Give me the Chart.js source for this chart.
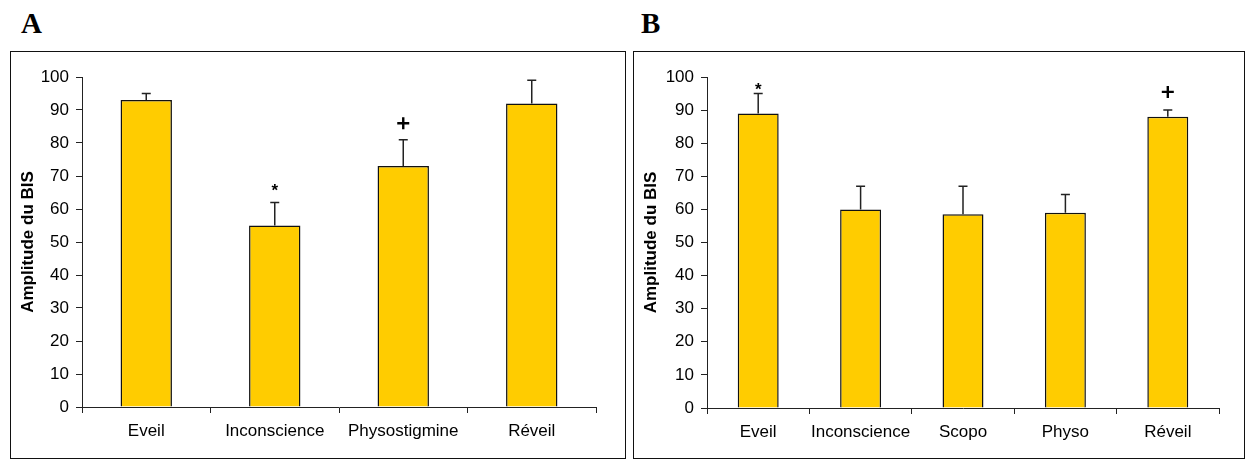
<!DOCTYPE html>
<html>
<head>
<meta charset="utf-8">
<script src="https://cdn.jsdelivr.net/npm/chart.js@4.4.1/dist/chart.umd.min.js"></script>
<style>
  body { margin: 0; background: #fff; width: 1247px; height: 459px; position: relative; overflow: hidden; }
  .letter { position: absolute; font: bold 29px 'Liberation Serif', 'Times New Roman', serif; }
  .box { position: absolute; border: 1.5px solid #111; box-sizing: border-box; }
  canvas { position: absolute; }
</style>
</head>
<body>
<div class="letter" style="left:21px; top:7px;">A</div>
<div class="letter" style="left:641px; top:7px;">B</div>
<div class="box" style="left:10px; top:51px; width:616px; height:408px;"></div>
<div class="box" style="left:633px; top:51px; width:612px; height:408px;"></div>
<canvas id="chartA" width="613" height="405" style="left:11px; top:52px;"></canvas>
<canvas id="chartB" width="609" height="405" style="left:634px; top:52px;"></canvas>
<script>
// Panel A
const labelsA = ['Eveil', 'Inconscience', 'Physostigmine', 'Réveil'];
const valuesA = [93, 55, 73, 92];
const errorsA = [2, 7, 8, 7];
const marksA = ['', '*', '+', ''];
const markValuesA = [null, 67, 86, null];

// Panel B
const labelsB = ['Eveil', 'Inconscience', 'Scopo', 'Physo', 'Réveil'];
const valuesB = [89, 60, 58.5, 59, 88];
const errorsB = [6, 7, 8.5, 5.5, 2];
const marksB = ['*', '', '', '', '+'];
const markValuesB = [97.5, null, null, null, 95.5];

const yTicks = [0, 10, 20, 30, 40, 50, 60, 70, 80, 90, 100];

const BAR_COLOR = '#FFCC00';
const AXIS_COLOR = '#222';

Chart.defaults.font.family = "'Liberation Sans', Arial, sans-serif";
Chart.defaults.color = '#000';

// draws the upper error bars and the significance marks
const errorBarPlugin = {
    id: 'errorBars',
    afterDatasetsDraw(chart, args, opts) {
        const ctx = chart.ctx;
        const y = chart.scales.y;
        const meta = chart.getDatasetMeta(0);
        ctx.save();
        meta.data.forEach((bar, i) => {
            const top = y.getPixelForValue(opts.values[i]);
            const cap = y.getPixelForValue(opts.values[i] + opts.errors[i]);
            ctx.strokeStyle = '#222';
            ctx.lineWidth = 1.5;
            ctx.beginPath();
            ctx.moveTo(bar.x, top);
            ctx.lineTo(bar.x, cap);
            ctx.moveTo(bar.x - 4.5, cap);
            ctx.lineTo(bar.x + 4.5, cap);
            ctx.stroke();

            const mark = opts.marks[i];
            if (!mark) return;
            const my = y.getPixelForValue(opts.markValues[i]);
            ctx.strokeStyle = '#000';
            ctx.fillStyle = '#000';
            if (mark === '+') {
                ctx.lineWidth = 2.4;
                ctx.beginPath();
                ctx.moveTo(bar.x - 6, my);
                ctx.lineTo(bar.x + 6, my);
                ctx.moveTo(bar.x, my - 6);
                ctx.lineTo(bar.x, my + 6);
                ctx.stroke();
            } else {
                ctx.font = "bold 17px 'Liberation Sans', Arial, sans-serif";
                ctx.textAlign = 'center';
                ctx.textBaseline = 'alphabetic';
                ctx.fillText(mark, bar.x, my + 10);
            }
        });
        ctx.restore();
    }
};

function makeChart(id, labels, values, errors, marks, markValues, yWidth, rightPad, xHeight) {
    return new Chart(document.getElementById(id).getContext('2d'), {
        type: 'bar',
        data: {
            labels,
            datasets: [{
                data: values,
                backgroundColor: BAR_COLOR,
                borderColor: '#111',
                borderWidth: 1.5,
                borderSkipped: 'bottom',
                categoryPercentage: 1,
                barPercentage: 0.4,
            }],
        },
        options: {
            responsive: false,
            animation: false,
            layout: { padding: { left: 0, top: 25, right: rightPad, bottom: 0 } },
            plugins: {
                legend: { display: false },
                tooltip: { enabled: false },
                errorBars: { values, errors, marks, markValues },
            },
            scales: {
                x: {
                    offset: true,
                    grid: { offset: true, drawOnChartArea: false, tickLength: 6, color: AXIS_COLOR },
                    border: { color: AXIS_COLOR, width: 1 },
                    ticks: { font: { size: 17 }, padding: 8, maxRotation: 0, autoSkip: false },
                    afterFit: (s) => { s.height = xHeight; },
                },
                y: {
                    min: 0,
                    max: 100,
                    afterBuildTicks: (s) => { s.ticks = yTicks.map((v) => ({ value: v })); },
                    grid: { drawOnChartArea: false, tickLength: 6, color: AXIS_COLOR },
                    border: { color: AXIS_COLOR, width: 1 },
                    ticks: { font: { size: 17 }, padding: 7 },
                    title: {
                        display: true,
                        text: 'Amplitude du BIS',
                        font: { size: 17, weight: 'bold' },
                        padding: { top: 7, bottom: 0 },
                    },
                    afterFit: (s) => { s.width = yWidth; },
                },
            },
        },
        plugins: [errorBarPlugin],
    });
}

makeChart('chartA', labelsA, valuesA, errorsA, marksA, markValuesA, 71, 28, 50);
makeChart('chartB', labelsB, valuesB, errorsB, marksB, markValuesB, 73, 24, 49);
</script>
</body>
</html>
